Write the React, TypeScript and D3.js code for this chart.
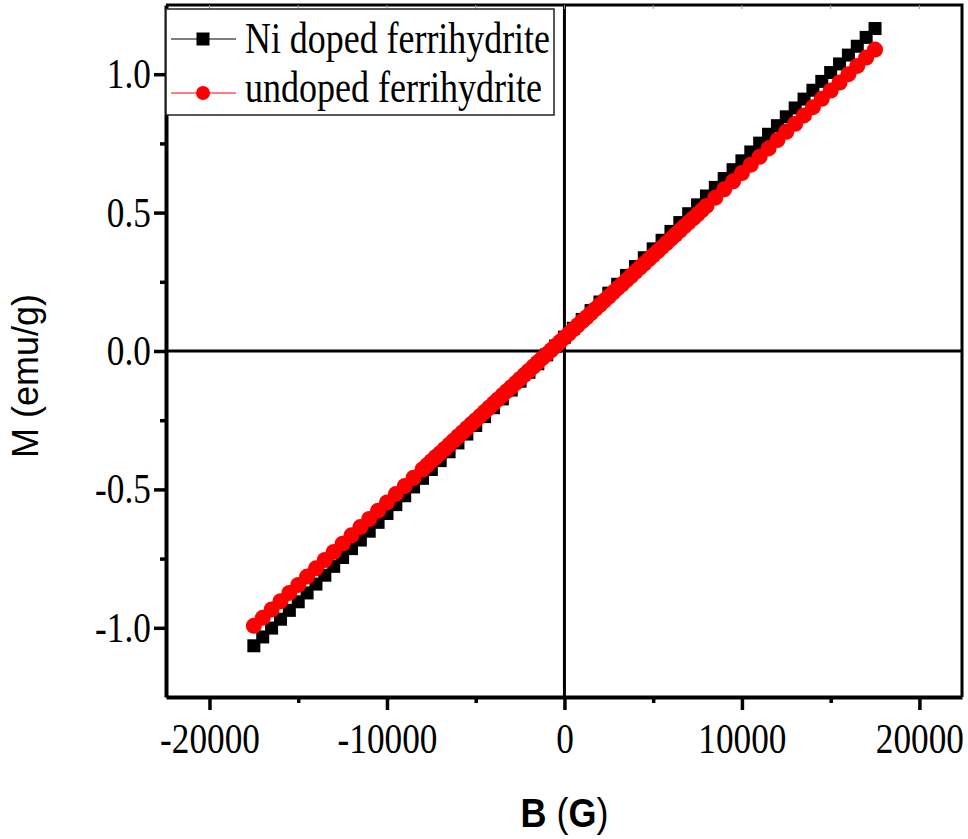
import React, { useEffect, useRef } from "react";
import * as d3 from "d3";

// Ni doped ferrihydrite (black squares)
const niField = [
  -17500, -17000, -16500, -16000, -15500, -15000, -14500, -14000, -13500, -13000,
  -12500, -12000, -11500, -11000, -10500, -10000, -9500, -9000, -8500, -8000,
  -7500, -7000, -6500, -6000, -5500, -5000, -4500, -4000, -3500, -3000,
  -2500, -2000, -1500, -1000, -500, 0, 500, 1000, 1500, 2000,
  2500, 3000, 3500, 4000, 4500, 5000, 5500, 6000, 6500, 7000,
  7500, 8000, 8500, 9000, 9500, 10000, 10500, 11000, 11500, 12000,
  12500, 13000, 13500, 14000, 14500, 15000, 15500, 16000, 16500, 17000,
  17500,
];
const niM = [
  -1.065, -1.033, -1.001, -0.969, -0.937, -0.906, -0.874, -0.842, -0.81, -0.778,
  -0.746, -0.714, -0.683, -0.651, -0.619, -0.587, -0.555, -0.523, -0.491, -0.46,
  -0.428, -0.396, -0.364, -0.332, -0.3, -0.269, -0.237, -0.205, -0.173, -0.141,
  -0.109, -0.077, -0.046, -0.014, 0.018, 0.05, 0.082, 0.114, 0.146, 0.177,
  0.209, 0.241, 0.273, 0.305, 0.337, 0.369, 0.4, 0.432, 0.464, 0.496,
  0.528, 0.56, 0.591, 0.623, 0.655, 0.687, 0.719, 0.751, 0.783, 0.814,
  0.846, 0.878, 0.91, 0.942, 0.974, 1.006, 1.037, 1.069, 1.101, 1.133,
  1.165,
];

// undoped ferrihydrite (red circles)
const undopedField = [
  -17500, -17000, -16500, -16000, -15500, -15000, -14500, -14000, -13500, -13000,
  -12500, -12000, -11500, -11000, -10500, -10000, -9500, -9000, -8500, -8000,
  -7750, -7500, -7250, -7000, -6750, -6500, -6250, -6000, -5750, -5500,
  -5250, -5000, -4750, -4500, -4250, -4000, -3750, -3500, -3250, -3000,
  -2750, -2500, -2250, -2000, -1750, -1500, -1250, -1000, -750, -500,
  -250, 0, 250, 500, 750, 1000, 1250, 1500, 1750, 2000,
  2250, 2500, 2750, 3000, 3250, 3500, 3750, 4000, 4250, 4500,
  4750, 5000, 5250, 5500, 5750, 6000, 6250, 6500, 6750, 7000,
  7250, 7500, 7750, 8000, 8500, 9000, 9500, 10000, 10500, 11000,
  11500, 12000, 12500, 13000, 13500, 14000, 14500, 15000, 15500, 16000,
  16500, 17000, 17500,
];
const undopedM = [
  -0.993, -0.964, -0.934, -0.904, -0.874, -0.845, -0.815, -0.785, -0.755, -0.726,
  -0.696, -0.666, -0.636, -0.607, -0.577, -0.547, -0.517, -0.488, -0.458, -0.428,
  -0.413, -0.398, -0.383, -0.369, -0.354, -0.339, -0.324, -0.309, -0.294, -0.279,
  -0.264, -0.25, -0.235, -0.22, -0.205, -0.19, -0.175, -0.16, -0.145, -0.131,
  -0.116, -0.101, -0.086, -0.071, -0.056, -0.041, -0.026, -0.012, 0.003, 0.018,
  0.033, 0.048, 0.063, 0.078, 0.093, 0.108, 0.122, 0.137, 0.152, 0.167,
  0.182, 0.197, 0.212, 0.227, 0.241, 0.256, 0.271, 0.286, 0.301, 0.316,
  0.331, 0.346, 0.36, 0.375, 0.39, 0.405, 0.42, 0.435, 0.45, 0.465,
  0.479, 0.494, 0.509, 0.524, 0.554, 0.584, 0.613, 0.643, 0.673, 0.702,
  0.732, 0.762, 0.792, 0.821, 0.851, 0.881, 0.911, 0.941, 0.97, 1.0,
  1.03, 1.06, 1.089,
];

const xTicks = [-20000, -10000, 0, 10000, 20000];
const xMinorTicks = [-15000, -5000, 5000, 15000];
const yTicks = [-1.0, -0.5, 0.0, 0.5, 1.0];
const yMinorTicks = [-0.75, -0.25, 0.25, 0.75];
const legendLabels = ["Ni doped ferrihydrite", "undoped ferrihydrite"];

const W = 968;
const H = 839;
const serif = "'Liberation Serif', 'Times New Roman', serif";
const sans = "'Liberation Sans', Arial, sans-serif";

export default function App() {
  const svgRef = useRef<SVGSVGElement>(null);

  useEffect(() => {
    const svg = d3.select(svgRef.current);
    svg.selectAll("*").remove();

    const x = d3.scaleLinear().domain([-22450, 22400]).range([166, 962]);
    const y = d3.scaleLinear().domain([-1.25, 1.25]).range([697, 5]);
    const [x0, x1] = x.range();
    const [y0, y1] = y.range();

    svg.append("rect").attr("width", W).attr("height", H).attr("fill", "#fff");

    // zero lines
    svg.append("line")
      .attr("x1", x(0)).attr("x2", x(0)).attr("y1", y0).attr("y2", y1)
      .attr("stroke", "#000").attr("stroke-width", 3);
    svg.append("line")
      .attr("x1", x0).attr("x2", x1).attr("y1", y(0)).attr("y2", y(0))
      .attr("stroke", "#000").attr("stroke-width", 3);

    // top / right frame
    svg.append("path")
      .attr("d", `M${x0},${y1}H${x1}V${y0}`)
      .attr("fill", "none").attr("stroke", "#000").attr("stroke-width", 3);

    // faint top ticks
    svg.append("g")
      .selectAll("line")
      .data([...xTicks, ...xMinorTicks])
      .enter()
      .append("line")
      .attr("x1", (d) => x(d)).attr("x2", (d) => x(d))
      .attr("y1", y1).attr("y2", y1 + 4)
      .attr("stroke", "#999").attr("stroke-width", 1);

    // minor ticks
    const xMinorAxis = d3.axisBottom(x).tickValues(xMinorTicks).tickSize(6).tickFormat(() => "");
    const gxm = svg.append("g").attr("transform", `translate(0,${y0})`).call(xMinorAxis);
    gxm.select(".domain").remove();
    gxm.selectAll(".tick line").attr("stroke-width", 3.5);

    const yMinorAxis = d3.axisLeft(y).tickValues(yMinorTicks).tickSize(6).tickFormat(() => "");
    const gym = svg.append("g").attr("transform", `translate(${x0},0)`).call(yMinorAxis);
    gym.select(".domain").remove();
    gym.selectAll(".tick line").attr("stroke-width", 3.5);

    // major x axis
    const xAxis = d3.axisBottom(x)
      .tickValues(xTicks)
      .tickSize(13)
      .tickSizeOuter(0)
      .tickPadding(13)
      .tickFormat((d) => String(d));
    const gx = svg.append("g").attr("transform", `translate(0,${y0})`).call(xAxis);
    gx.select(".domain").attr("stroke-width", 4);
    gx.selectAll(".tick line").attr("stroke-width", 3.5);
    gx.selectAll("text")
      .attr("font-family", serif)
      .attr("font-size", 42)
      .attr("fill", "#000")
      .attr("transform", "scale(0.84,1)");

    // major y axis
    const yAxis = d3.axisLeft(y)
      .tickValues(yTicks)
      .tickSize(12)
      .tickSizeOuter(0)
      .tickPadding(6)
      .tickFormat((d) => (+d).toFixed(1));
    const gy = svg.append("g").attr("transform", `translate(${x0},0)`).call(yAxis);
    gy.select(".domain").attr("stroke-width", 4);
    gy.selectAll(".tick line").attr("stroke-width", 3.5);
    gy.selectAll("text")
      .attr("font-family", serif)
      .attr("font-size", 42)
      .attr("fill", "#000")
      .attr("transform", "scale(0.84,1)");

    // series
    const niPts = niField.map((b, i) => ({ b, m: niM[i] }));
    const unPts = undopedField.map((b, i) => ({ b, m: undopedM[i] }));
    const line = d3.line<{ b: number; m: number }>()
      .x((d) => x(d.b))
      .y((d) => y(d.m));

    svg.append("path").datum(niPts)
      .attr("fill", "none").attr("stroke", "#000").attr("stroke-width", 1)
      .attr("d", line);
    svg.append("g").selectAll("rect")
      .data(niPts).enter().append("rect")
      .attr("x", (d) => x(d.b) - 6.5).attr("y", (d) => y(d.m) - 6.5)
      .attr("width", 13).attr("height", 13)
      .attr("fill", "#000");

    svg.append("path").datum(unPts)
      .attr("fill", "none").attr("stroke", "#ff0000").attr("stroke-width", 1)
      .attr("d", line);
    svg.append("g").selectAll("circle")
      .data(unPts).enter().append("circle")
      .attr("cx", (d) => x(d.b)).attr("cy", (d) => y(d.m))
      .attr("r", 8)
      .attr("fill", "#ff0000");

    // legend
    const lg = svg.append("g");
    lg.append("rect")
      .attr("x", x0).attr("y", 9).attr("width", 388).attr("height", 106)
      .attr("fill", "#fff").attr("stroke", "#222").attr("stroke-width", 1.5);
    const rows = [
      { label: legendLabels[0], color: "#000", cy: 39, base: 53, len: 305, shape: "square" },
      { label: legendLabels[1], color: "#ff0000", cy: 93, base: 102, len: 297, shape: "circle" },
    ];
    rows.forEach((r) => {
      lg.append("line")
        .attr("x1", 171).attr("x2", 236).attr("y1", r.cy).attr("y2", r.cy)
        .attr("stroke", r.color).attr("stroke-width", 1.2);
      if (r.shape === "square") {
        lg.append("rect")
          .attr("x", 203 - 6.5).attr("y", r.cy - 6.5)
          .attr("width", 13).attr("height", 13).attr("fill", r.color);
      } else {
        lg.append("circle").attr("cx", 203).attr("cy", r.cy).attr("r", 7).attr("fill", r.color);
      }
      lg.append("text")
        .attr("x", 245).attr("y", r.base)
        .attr("font-family", serif).attr("font-size", 44)
        .attr("textLength", r.len).attr("lengthAdjust", "spacingAndGlyphs")
        .attr("fill", "#000")
        .text(r.label);
    });

    // axis titles
    const xt = svg.append("text")
      .attr("transform", `translate(${x(0)},827) scale(0.9,1)`)
      .attr("text-anchor", "middle")
      .attr("font-family", sans).attr("font-size", 40).attr("fill", "#000");
    xt.append("tspan").attr("font-weight", "bold").text("B");
    xt.append("tspan").text(" (");
    xt.append("tspan").attr("font-weight", "bold").text("G");
    xt.append("tspan").text(")");

    svg.append("text")
      .attr("transform", `translate(38,${y(-0.09)}) rotate(-90)`)
      .attr("text-anchor", "middle")
      .attr("font-family", sans).attr("font-size", 36).attr("fill", "#000")
      .text("M (emu/g)");
  }, []);

  return (
    <svg
      ref={svgRef}
      width={W}
      height={H}
      style={{ position: "absolute", left: 0, top: 0, display: "block" }}
    />
  );
}
